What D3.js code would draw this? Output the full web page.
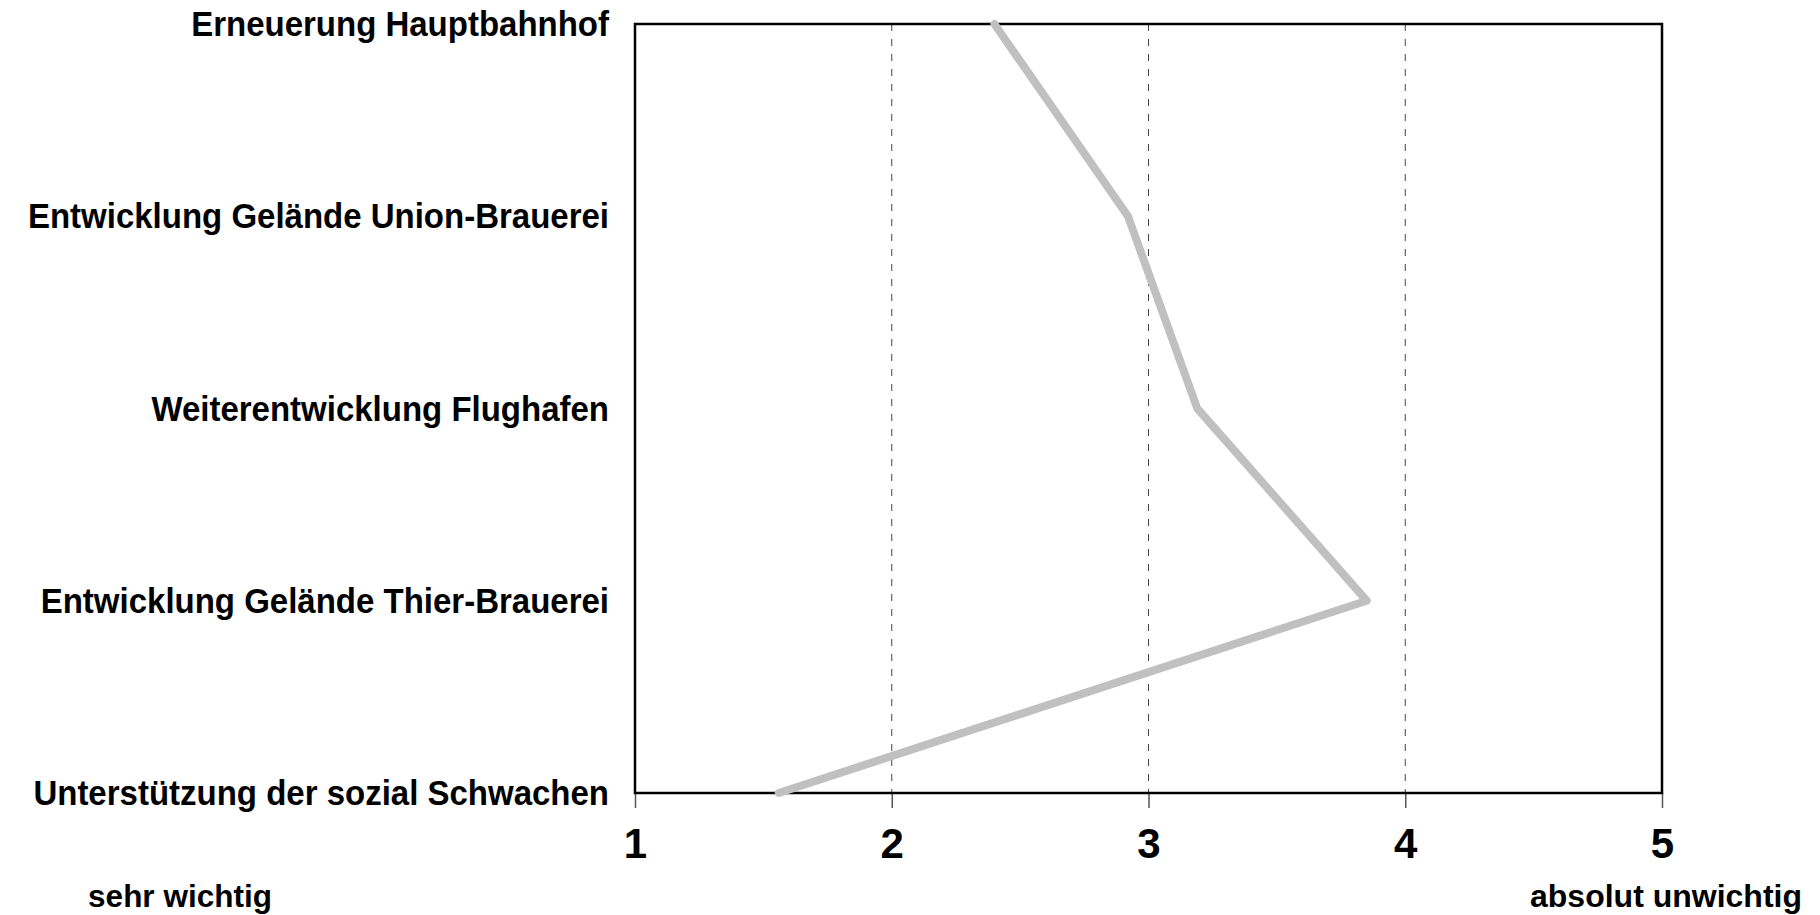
<!DOCTYPE html>
<html>
<head>
<meta charset="utf-8">
<script src="https://cdn.jsdelivr.net/npm/d3@7"></script>
<style>
    body { margin: 0; background: #fff; }
    svg { display: block; font-family: "Liberation Sans", Arial, sans-serif; font-weight: bold; }
</style>
</head>
<body>
<svg id="chart"></svg>
<script>
// Kategorien (von oben nach unten) und Mittelwerte
const projekte = [
    'Erneuerung Hauptbahnhof',
    'Entwicklung Gelände Union-Brauerei',
    'Weiterentwicklung Flughafen',
    'Entwicklung Gelände Thier-Brauerei',
    'Unterstützung der sozial Schwachen'
];
const mittelwerte = [2.40, 2.92, 3.19, 3.85, 1.56];
const skalaTicks = [1, 2, 3, 4, 5];
const skalaEnden = ['sehr wichtig', 'absolut unwichtig'];

const width = 1820;
const height = 915;
const marginLeft = 635, marginRight = 1662, marginTop = 24, marginBottom = 793;
const squeeze = 0.917; // Schrift im Original etwas schmaler

let svg = d3.select("#chart").attr("width", width).attr("height", height);

let scX = d3.scaleLinear().domain([1, 5]).range([marginLeft, marginRight]);
let scY = d3.scalePoint().domain(projekte).range([marginTop, marginBottom]);

// gestrichelte Hilfslinien
svg.append("g")
    .selectAll("line")
    .data(skalaTicks.slice(1, -1))
    .enter()
    .append("line")
    .attr("x1", d => scX(d))
    .attr("x2", d => scX(d))
    .attr("y1", marginTop)
    .attr("y2", marginBottom)
    .attr("stroke", "#444")
    .attr("stroke-width", 1)
    .attr("stroke-dasharray", "7,8");

// x-Achse
let axisX = d3.axisBottom(scX).tickValues(skalaTicks).tickFormat(d3.format("d"))
    .tickSize(15).tickPadding(20);
let gx = svg.append("g")
    .attr("transform", `translate(0, ${marginBottom})`)
    .call(axisX);
gx.select(".domain").remove();
gx.selectAll(".tick line").attr("stroke", "#555").attr("stroke-width", 1.5);
gx.selectAll(".tick text")
    .attr("fill", "#000")
    .style("font-size", "42px")
    .style("font-weight", "bold")
    .style("font-family", "'Liberation Sans', Arial, sans-serif");

// y-Achse
let axisY = d3.axisLeft(scY).tickSize(0).tickPadding(26);
let gy = svg.append("g")
    .attr("transform", `translate(${marginLeft}, 0)`)
    .call(axisY);
gy.select(".domain").remove();
gy.selectAll(".tick text")
    .attr("fill", "#000")
    .attr("x", -26 / squeeze)
    .attr("transform", `scale(${squeeze}, 1)`)
    .style("font-size", "36px")
    .style("font-weight", "bold")
    .style("font-family", "'Liberation Sans', Arial, sans-serif");

// Rahmen
svg.append("rect")
    .attr("x", marginLeft)
    .attr("y", marginTop)
    .attr("width", marginRight - marginLeft)
    .attr("height", marginBottom - marginTop)
    .attr("fill", "none")
    .attr("stroke", "#000")
    .attr("stroke-width", 2.5);

// Linie
let line = d3.line()
    .x(d => scX(d[1]))
    .y(d => scY(d[0]));
svg.append("path")
    .datum(projekte.map((p, i) => [p, mittelwerte[i]]))
    .attr("d", line)
    .attr("fill", "none")
    .attr("stroke", "#c0c0c0")
    .attr("stroke-width", 8)
    .attr("stroke-linecap", "round")
    .attr("stroke-linejoin", "round");

// Skalenenden
svg.append("text")
    .attr("x", 180)
    .attr("y", 907)
    .attr("text-anchor", "middle")
    .style("font-size", "31.5px")
    .text(skalaEnden[0]);
svg.append("text")
    .attr("x", scX(5) + 4)
    .attr("y", 907)
    .attr("text-anchor", "middle")
    .style("font-size", "32px")
    .text(skalaEnden[1]);
</script>
</body>
</html>
